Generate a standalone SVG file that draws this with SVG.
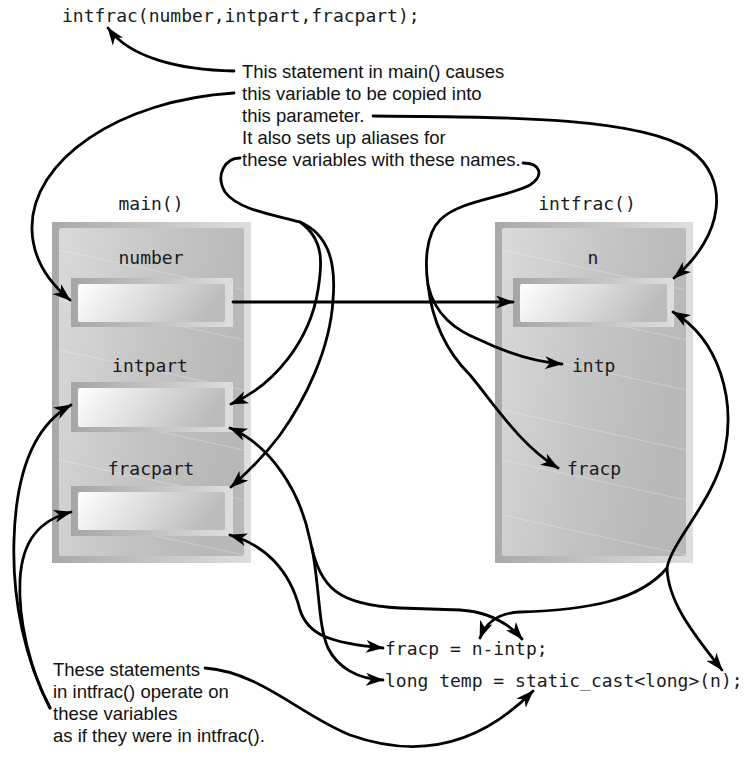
<svg xmlns="http://www.w3.org/2000/svg" width="756" height="758" viewBox="0 0 756 758">
<defs>
<linearGradient id="frameG" x1="0" y1="0" x2="1" y2="0">
<stop offset="0" stop-color="#a9a9a9"/><stop offset="0.5" stop-color="#c4c4c4"/><stop offset="1" stop-color="#dedede"/>
</linearGradient>
<linearGradient id="panelG" x1="0" y1="0" x2="1" y2="0.3">
<stop offset="0" stop-color="#dadada"/><stop offset="0.6" stop-color="#c3c3c3"/><stop offset="1" stop-color="#b8b8b8"/>
</linearGradient>
<linearGradient id="slotG" x1="0" y1="0" x2="1" y2="0">
<stop offset="0" stop-color="#a6a6a6"/><stop offset="1" stop-color="#dedede"/>
</linearGradient>
<linearGradient id="slotInG" x1="0" y1="0" x2="1" y2="0.2">
<stop offset="0" stop-color="#ffffff"/><stop offset="0.5" stop-color="#dedede"/><stop offset="1" stop-color="#bcbcbc"/>
</linearGradient>
<marker id="ah" viewBox="0 0 18 13" refX="17" refY="6.5" markerWidth="18" markerHeight="13" markerUnits="userSpaceOnUse" orient="auto-start-reverse">
<path d="M0,0 L18,6.5 L0,13 L5,6.5 z" fill="#000"/>
</marker>
<style>
.mono{font-family:"DejaVu Sans Mono","Liberation Mono",monospace;font-size:18px;fill:#1a1a1a}
.sans{font-family:"Liberation Sans",Arial,sans-serif;font-size:18.5px;fill:#111}
.frame{fill:url(#frameG)}
.panel{fill:url(#panelG)}
.slot{fill:url(#slotG)}
.slotin{fill:url(#slotInG)}
.tex{stroke:#ffffff;stroke-opacity:0.35;stroke-width:0.8;fill:none}
.c{fill:none;stroke:#000;stroke-width:2.8;stroke-linecap:round}
.a{marker-end:url(#ah)}
.aa{marker-start:url(#ah);marker-end:url(#ah)}
</style>
</defs>

<g id="title-stmt"><text class="mono" x="62" y="22">intfrac(number,intpart,fracpart);</text></g>

<g id="note-top">
<text class="sans" x="242" y="78">This statement in main() causes</text>
<text class="sans" x="242" y="100">this variable to be copied into</text>
<text class="sans" x="242" y="122">this parameter.</text>
<text class="sans" x="242" y="144">It also sets up aliases for</text>
<text class="sans" x="242" y="166">these variables with these names.</text>
</g>

<g id="main-frame">
<text class="mono" x="151" y="210" text-anchor="middle">main()</text>
<rect class="frame" x="52" y="222" width="199" height="341"/>
<rect class="panel" x="59" y="228" width="185" height="328" rx="2"/>
<path class="tex" d="M59,250 L244,290 M59,300 L244,340 M59,350 L244,390 M59,410 L244,450 M59,460 L244,500 M59,515 L244,555"/>
</g>
<g id="number">
<text class="mono" x="151" y="264" text-anchor="middle">number</text>
<rect class="slot" x="71" y="278" width="162" height="49"/>
<rect class="slotin" x="78" y="284" width="147" height="38" rx="2"/>
</g>
<g id="intpart">
<text class="mono" x="150" y="372" text-anchor="middle">intpart</text>
<rect class="slot" x="71" y="382" width="162" height="50"/>
<rect class="slotin" x="78" y="388" width="147" height="39" rx="2"/>
</g>
<g id="fracpart">
<text class="mono" x="151" y="475" text-anchor="middle">fracpart</text>
<rect class="slot" x="71" y="486" width="162" height="50"/>
<rect class="slotin" x="78" y="492" width="147" height="38" rx="2"/>
</g>

<g id="intfrac-frame">
<text class="mono" x="587" y="210" text-anchor="middle">intfrac()</text>
<rect class="frame" x="495" y="222" width="198" height="341"/>
<rect class="panel" x="502" y="228" width="184" height="328" rx="2"/>
<path class="tex" d="M502,250 L686,290 M502,300 L686,340 M502,350 L686,390 M502,410 L686,450 M502,460 L686,500 M502,515 L686,555"/>
</g>
<g id="n">
<text class="mono" x="593" y="264" text-anchor="middle">n</text>
<rect class="slot" x="513" y="278" width="161" height="49"/>
<rect class="slotin" x="520" y="284" width="147" height="38" rx="2"/>
</g>
<g id="intp"><text class="mono" x="572" y="372">intp</text></g>
<g id="fracp"><text class="mono" x="567" y="475">fracp</text></g>

<g id="code">
<text class="mono" x="385" y="655">fracp = n-intp;</text>
<text class="mono" x="385" y="687">long temp = static_cast&lt;long&gt;(n);</text>
</g>

<g id="note-bottom">
<text class="sans" x="53" y="676">These statements</text>
<text class="sans" x="53" y="698">in intfrac() operate on</text>
<text class="sans" x="53" y="720">these variables</text>
<text class="sans" x="53" y="742">as if they were in intfrac().</text>
</g>

<g id="connectors">
<path class="c a" d="M234,71 C 180,70 130,58 108,28"/>
<path class="c a" d="M234,93 C 120,100 30,160 32,230 C 33,262 52,285 70,300"/>
<path class="c a" d="M373,116 C 520,117 640,118 690,150 C 730,178 725,235 674,278"/>
<path class="c a" d="M240,158 C 225,158 215,175 225,192 C 238,210 275,215 300,222 C 325,240 322,265 318,290 C 310,340 275,385 231,404"/>
<path class="c a" d="M300,222 C 330,235 336,265 333,300 C 330,350 305,400 280,435 C 265,455 248,472 231,487"/>
<path class="c a" d="M523,163 C 540,163 545,175 530,185 C 505,198 460,200 440,220 C 425,235 425,265 428,285 C 435,315 455,330 480,340 C 505,352 535,362 562,364"/>
<path class="c a" d="M428,285 C 432,320 445,350 470,375 C 495,405 520,445 558,468"/>
<path class="c a" d="M233,302 L513,302"/>
<path class="c aa" d="M230,428 C 270,445 300,490 310,540 C 320,590 340,605 400,608 L 460,610 C 490,612 510,625 522,639"/>
<path class="c a" d="M312,548 C 320,590 318,625 328,648 C 338,668 358,679 383,680"/>
<path class="c aa" d="M230,535 C 265,545 290,570 300,610 C 308,635 330,643 383,648"/>
<path class="c aa" d="M673,312 C 720,340 735,400 725,450 C 715,500 672,540 667,568 C 640,600 590,610 520,612 C 495,613 485,625 480,638"/>
<path class="c a" d="M667,568 C 668,600 690,630 722,670"/>
<path class="c a" d="M50,708 C 25,660 12,600 14,540 C 16,470 35,425 71,405"/>
<path class="c a" d="M50,708 C 30,670 18,620 20,580 C 22,540 40,520 71,512"/>
<path class="c a" d="M205,668 C 260,672 300,715 350,735 C 420,760 480,745 533,691"/>
</g>
</svg>
